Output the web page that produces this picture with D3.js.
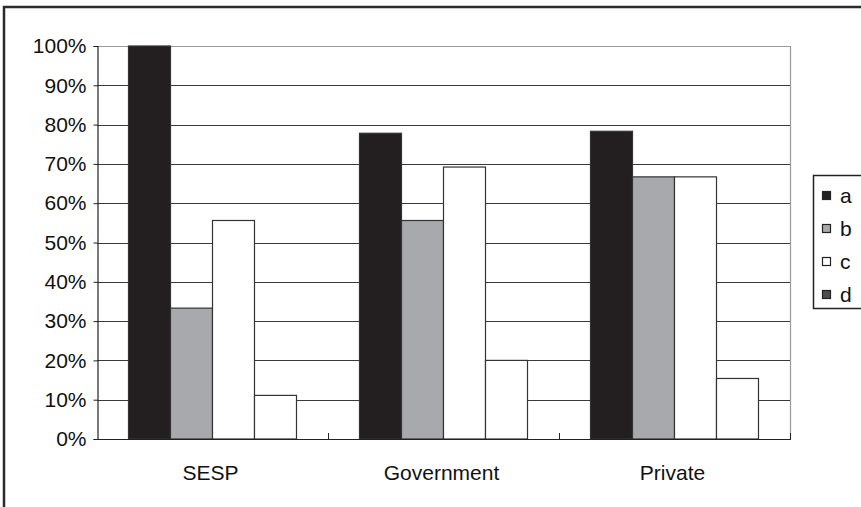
<!DOCTYPE html>
<html>
<head>
<meta charset="utf-8">
<script src="https://cdn.jsdelivr.net/npm/d3@7"></script>
<style>
  html, body { margin: 0; padding: 0; background: #fff; }
  svg { display: block; }
  text { font-family: "Liberation Sans", Arial, sans-serif; fill: #111; }
</style>
</head>
<body>
<svg id="chart" width="861" height="507"></svg>
<script>
// Sectors along the x axis
const categories = ["SESP", "Government", "Private"];
// Series keys, in drawing order within each group
const seriesKeys = ["a", "b", "c", "d"];
// Share (%) for each series, one value per sector
const valuesA = [100, 77.8, 78.3];
const valuesB = [33.3, 55.6, 66.7];
const valuesC = [55.6, 69.2, 66.7];
const valuesD = [11.1, 20.0, 15.4];
// Y-axis ticks
const yTicks = [0, 10, 20, 30, 40, 50, 60, 70, 80, 90, 100];

const seriesValues = { a: valuesA, b: valuesB, c: valuesC, d: valuesD };
const barFill = { a: "#231f20", b: "#a7a9ac", c: "#ffffff", d: "#ffffff" };
const legendFill = { a: "#231f20", b: "#a7a9ac", c: "#ffffff", d: "#4d4d4f" };

const svg = d3.select("#chart");
const plot = { left: 97, right: 790, top: 46, bottom: 439 };
const fontSize = 21;

const x = d3.scaleBand().domain(categories).range([plot.left, plot.right]).paddingInner(0).paddingOuter(0);
const xs = d3.scaleBand().domain(seriesKeys).range([0, x.bandwidth()]).paddingInner(0).paddingOuter(0.75);
const y = d3.scaleLinear().domain([0, 100]).range([plot.bottom, plot.top]);

// Outer chart frame (cropped on the right and bottom)
svg.append("path")
  .attr("d", `M4,${507 + 5} L4,7 L${861 + 5},7`)
  .attr("fill", "none").attr("stroke", "#2b2b2b").attr("stroke-width", 2.5);

// Horizontal gridlines
svg.append("g").selectAll("line")
  .data(yTicks.filter(t => t > 0 && t < 100))
  .join("line")
  .attr("x1", plot.left).attr("x2", plot.right)
  .attr("y1", d => Math.round(y(d)) + 0.5).attr("y2", d => Math.round(y(d)) + 0.5)
  .attr("stroke", "#3a3a3a").attr("stroke-width", 1);

// Plot area top and right border
svg.append("path")
  .attr("d", `M${plot.left},${plot.top + 0.5} L${plot.right + 0.5},${plot.top + 0.5} L${plot.right + 0.5},${plot.bottom}`)
  .attr("fill", "none").attr("stroke", "#9a9a9a").attr("stroke-width", 1.2);

// Bars
const rows = categories.map((c, i) => ({ category: c, values: seriesKeys.map(k => ({ key: k, value: seriesValues[k][i] })) }));
svg.append("g").selectAll("g")
  .data(rows)
  .join("g")
  .attr("transform", d => `translate(${x(d.category)},0)`)
  .selectAll("rect")
  .data(d => d.values)
  .join("rect")
  .attr("x", d => xs(d.key))
  .attr("y", d => y(d.value))
  .attr("width", xs.bandwidth())
  .attr("height", d => y(0) - y(d.value))
  .attr("fill", d => barFill[d.key])
  .attr("stroke", "#333")
  .attr("stroke-width", 1.2);

// Y axis
const yAxis = d3.axisLeft(y).tickValues(yTicks).tickFormat(d => d + "%").tickSize(4).tickPadding(7);
const gy = svg.append("g").attr("transform", `translate(${plot.left + 0.5},0)`).call(yAxis);
gy.select(".domain").attr("stroke", "#222").attr("stroke-width", 1.2);
gy.selectAll(".tick line").attr("stroke", "#222");
gy.selectAll(".tick text").attr("font-size", fontSize).attr("font-family", "Liberation Sans, Arial, sans-serif").attr("fill", "#111");

// X axis: baseline, inner boundary ticks and category labels
svg.append("line")
  .attr("x1", plot.left).attr("x2", plot.right + 1)
  .attr("y1", plot.bottom + 0.5).attr("y2", plot.bottom + 0.5)
  .attr("stroke", "#222").attr("stroke-width", 1.2);
svg.append("g").selectAll("line")
  .data(categories.slice(1).map(c => x(c)).concat([plot.right]))
  .join("line")
  .attr("x1", d => d + 0.5).attr("x2", d => d + 0.5)
  .attr("y1", plot.bottom).attr("y2", plot.bottom - 6)
  .attr("stroke", "#222");
svg.append("g").selectAll("text")
  .data(categories)
  .join("text")
  .attr("x", d => x(d) + x.bandwidth() / 2 - 2)
  .attr("y", 480)
  .attr("text-anchor", "middle")
  .attr("font-size", fontSize)
  .text(d => d);

// Legend
const legend = svg.append("g");
legend.append("rect")
  .attr("x", 813.5).attr("y", 175.5).attr("width", 50).attr("height", 133)
  .attr("fill", "#fff").attr("stroke", "#222").attr("stroke-width", 1.5);
const ly = d3.scalePoint().domain(seriesKeys).range([196, 295]);
const items = legend.selectAll("g.item").data(seriesKeys).join("g")
  .attr("transform", d => `translate(0,${ly(d)})`);
items.append("rect")
  .attr("x", 822.5).attr("y", -4.5).attr("width", 8).attr("height", 8)
  .attr("fill", d => legendFill[d]).attr("stroke", "#222").attr("stroke-width", 1.2);
items.append("text")
  .attr("x", 840).attr("y", 7)
  .attr("font-size", fontSize)
  .text(d => d);
</script>
</body>
</html>
